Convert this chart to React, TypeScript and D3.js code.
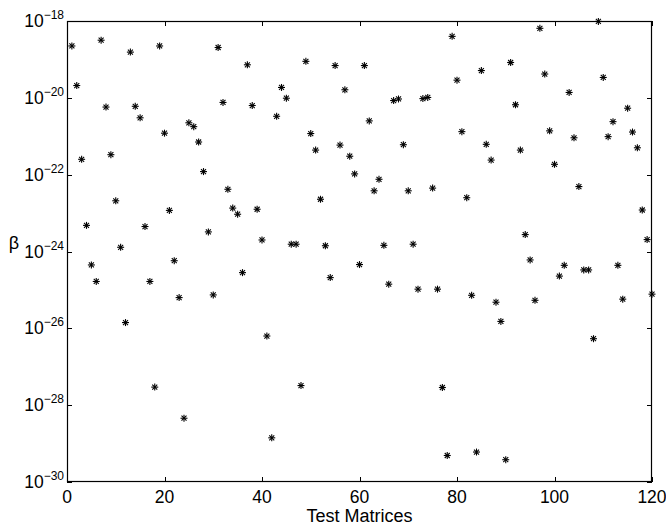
import React from "react";
import * as d3 from "d3";

// log10(beta) for test matrices 1..120
const log10Beta: number[] = [
  -18.65, -19.68, -21.6, -23.32, -24.35, -24.78, -18.5, -20.24, -21.48, -22.68,
  -23.89, -25.85, -18.81, -20.22, -20.52, -23.35, -24.78, -27.53, -18.65, -20.92,
  -22.93, -24.24, -25.2, -28.34, -20.65, -20.75, -21.15, -21.92, -23.49, -25.13,
  -18.69, -20.12, -22.38, -22.87, -23.03, -24.55, -19.14, -20.2, -22.9, -23.7,
  -26.2, -28.85, -20.48, -19.73, -20.01, -23.81, -23.81, -27.49, -19.05, -20.93,
  -21.36, -22.64, -23.85, -24.68, -19.16, -21.23, -19.79, -21.52, -21.98, -24.34,
  -19.16, -20.6, -22.42, -22.12, -23.84, -24.85, -20.07, -20.03, -21.22, -22.42,
  -23.81, -24.98, -20.02, -19.99, -22.35, -24.98, -27.54, -29.31, -18.4, -19.54,
  -20.88, -22.6, -25.14, -29.22, -19.29, -21.21, -21.62, -25.32, -25.82, -29.42,
  -19.08, -20.18, -21.36, -23.56, -24.22, -25.27, -18.19, -19.38, -20.86, -21.73,
  -24.64, -24.36, -19.86, -21.04, -22.31, -24.48, -24.48, -26.27, -18.01, -19.47,
  -21.01, -20.62, -24.36, -25.24, -20.27, -20.89, -21.3, -22.92, -23.69, -25.11,
];
const matrixIndex: number[] = log10Beta.map((_, i) => i + 1);
const betaValues: number[] = log10Beta.map((e) => Math.pow(10, e));

const xTicks: number[] = [0, 20, 40, 60, 80, 100, 120];
const yTickExps: number[] = [-18, -20, -22, -24, -26, -28, -30];
const xLabel = "Test Matrices";
const yLabel = "β";

const W = 666;
const H = 527;
const L = 67;
const R = 652;
const T = 21;
const B = 482;
const FONT = "'Liberation Sans', Arial, Helvetica, sans-serif";

export default function App() {
  const x = d3.scaleLinear().domain([0, 120]).range([L, R]);
  const y = d3.scaleLog().domain([1e-30, 1e-18]).range([B, T]);
  const tl = 5;
  const a = 3.5;
  const d = 2.5;

  return (
    <svg
      width={W}
      height={H}
      style={{ position: "absolute", left: 0, top: 0, background: "#fff" }}
    >
      <rect x={0} y={0} width={W} height={H} fill="#fff" />
      {/* ticks */}
      <g stroke="#000" strokeWidth={1}>
        {xTicks.map((t) => {
          const px = Math.round(x(t)) + 0.5;
          return (
            <g key={"xt" + t}>
              <line x1={px} x2={px} y1={B} y2={B - tl} />
              <line x1={px} x2={px} y1={T} y2={T + tl} />
            </g>
          );
        })}
        {yTickExps.map((e) => {
          const py = Math.round(y(Math.pow(10, e))) + 0.5;
          return (
            <g key={"yt" + e}>
              <line x1={L} x2={L + tl} y1={py} y2={py} />
              <line x1={R} x2={R - tl} y1={py} y2={py} />
            </g>
          );
        })}
      </g>
      {/* box */}
      <rect
        x={L + 0.5}
        y={T + 0.5}
        width={R - L - 1}
        height={B - T - 1}
        fill="none"
        stroke="#000"
        strokeWidth={1.2}
      />
      {/* x tick labels */}
      {xTicks.map((t) => (
        <text
          key={"xl" + t}
          x={x(t)}
          y={503}
          textAnchor="middle"
          fontFamily={FONT}
          fontSize={17.5}
          fill="#000"
        >
          {t}
        </text>
      ))}
      {/* y tick labels */}
      {yTickExps.map((e) => {
        const py = y(Math.pow(10, e));
        return (
          <text
            key={"yl" + e}
            x={64}
            y={py + 6}
            textAnchor="end"
            fontFamily={FONT}
            fontSize={17.5}
            fill="#000"
          >
            10
            <tspan fontSize={12} dy={-8}>
              {"\u2212" + Math.abs(e)}
            </tspan>
          </text>
        );
      })}
      {/* axis labels */}
      <text
        x={(L + R) / 2}
        y={522}
        textAnchor="middle"
        fontFamily={FONT}
        fontSize={18}
        fill="#000"
      >
        {xLabel}
      </text>
      <text
        x={14}
        y={249}
        textAnchor="middle"
        fontFamily={FONT}
        fontSize={18}
        fill="#000"
      >
        {yLabel}
      </text>
      {/* markers */}
      <g stroke="#000" strokeWidth={1.1}>
        {matrixIndex.map((m, i) => {
          const cx = x(m);
          const cy = y(betaValues[i]);
          return (
            <g key={"p" + m}>
              <line x1={cx - a} x2={cx + a} y1={cy} y2={cy} />
              <line x1={cx} x2={cx} y1={cy - a} y2={cy + a} />
              <line x1={cx - d} x2={cx + d} y1={cy - d} y2={cy + d} />
              <line x1={cx - d} x2={cx + d} y1={cy + d} y2={cy - d} />
            </g>
          );
        })}
      </g>
    </svg>
  );
}
